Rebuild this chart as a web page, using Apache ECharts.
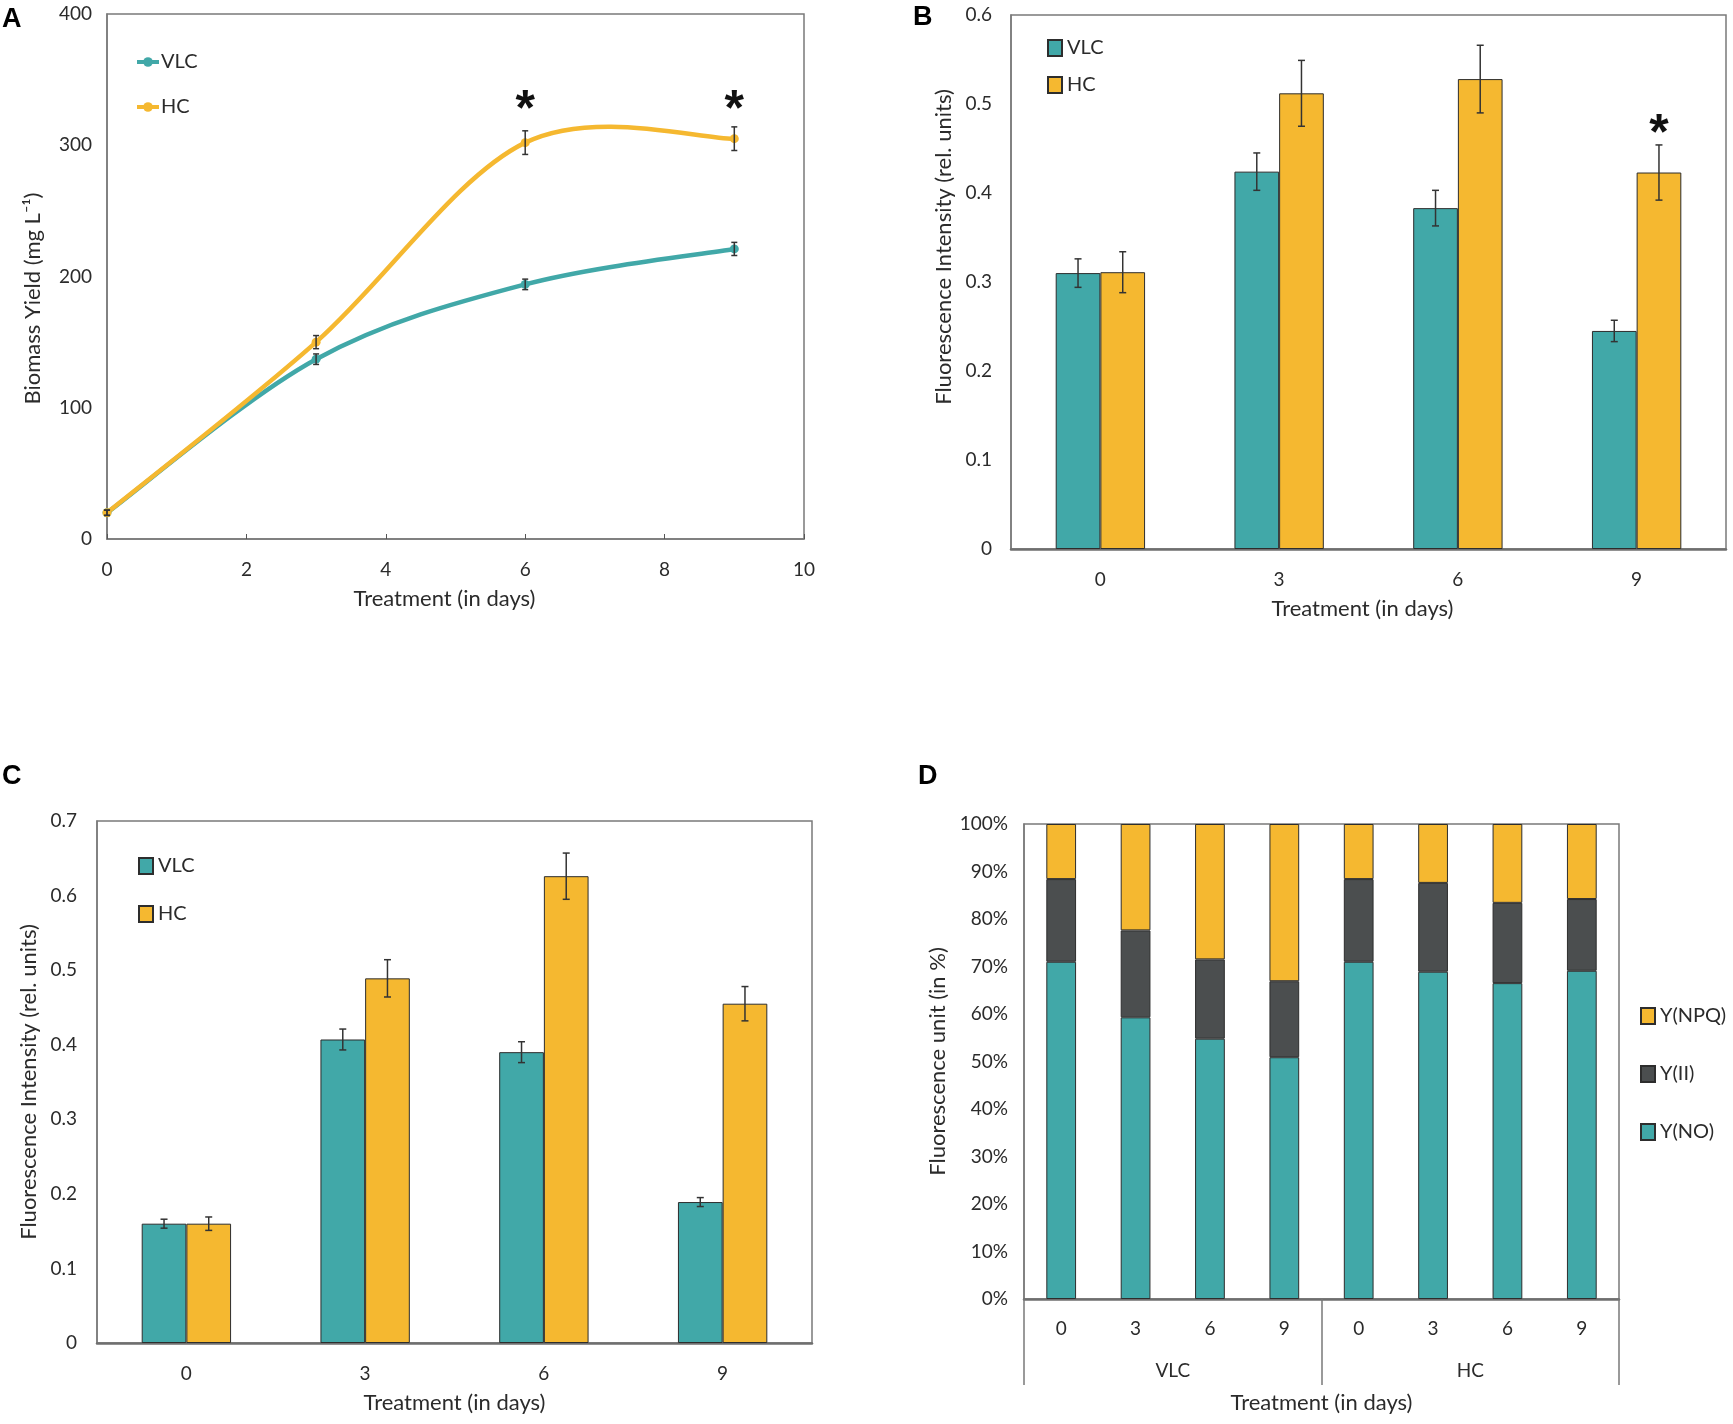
<!DOCTYPE html>
<html>
<head>
<meta charset="utf-8">
<script src="https://cdn.jsdelivr.net/npm/echarts@6/dist/echarts.min.js"></script>
<style>
  body { margin: 0; background: #fff; }
  #page { position: relative; width: 1733px; height: 1424px; background: #fff; }
  .panel { position: absolute; width: 866px; height: 712px; }
</style>
</head>
<body>
<div id="page">
  <div class="panel" id="pA" style="left:0;top:0;"></div>
  <div class="panel" id="pB" style="left:866px;top:0;width:867px;"></div>
  <div class="panel" id="pC" style="left:0;top:712px;"></div>
  <div class="panel" id="pD" style="left:866px;top:712px;width:867px;"></div>
</div>
<script>
// A: biomass yield (mg/L) by day
var aDays = [0, 3, 6, 9];
var aVLC = [20, 137, 194, 221];
var aHC = [20, 150, 302, 305];
var aVLCErr = [2, 4, 4, 5];
var aHCErr = [2, 5, 9, 9];
var aStarX = [6, 9];
var aStarY = [326, 326];

// B and C: fluorescence intensity per day
var days = ['0', '3', '6', '9'];
var bVLC = [0.310, 0.424, 0.383, 0.245];
var bHC = [0.311, 0.512, 0.528, 0.423];
var bVLCErr = [0.016, 0.021, 0.020, 0.012];
var bHCErr = [0.023, 0.037, 0.038, 0.031];
var bStarCat = [3];
var bStarY = [0.465];

var cVLC = [0.160, 0.407, 0.390, 0.189];
var cHC = [0.160, 0.489, 0.626, 0.455];
var cVLCErr = [0.006, 0.014, 0.014, 0.006];
var cHCErr = [0.009, 0.025, 0.031, 0.023];

// D: quantum yield shares (%)
var dDays = ['0', '3', '6', '9', '0', '3', '6', '9'];
var dGroups = ['VLC', 'HC'];
var dNO = [71.0, 59.3, 54.8, 50.9, 71.0, 68.9, 66.5, 69.1];
var dII = [17.4, 18.3, 16.7, 16.0, 17.4, 18.7, 16.9, 15.1];
var dNPQ = [11.6, 22.4, 28.5, 33.1, 11.6, 12.4, 16.6, 15.8];

var teal = '#41a8a8';
var gold = '#f5b830';
var dark = '#4b4e4f';
var font = 'Lato';
var txt = '#2b2b2b';
var frame = '#7a7a7a';

function letter(t, left, top) {
    return {
        text: t, left: left, top: top, padding: 0,
        textStyle: { fontFamily: 'Liberation Sans', fontWeight: 'bold', fontSize: 27, color: '#000' }
    };
}
function labelStyle(margin) {
    return { margin: margin, fontFamily: font, fontSize: 19, color: txt };
}
function nameStyle(padding) {
    return { fontFamily: font, fontSize: 22, color: txt, padding: padding || 0 };
}
var legendText = { fontFamily: font, fontSize: 20, color: txt };

// error bar drawer; offset -1 / +1 for left / right bar of a pair
function errRender(offset, frac, cap) {
    return function (params, api) {
        var x0 = api.value(0);
        var band = frac ? api.size([1, 0])[0] : 0;
        var hi = api.coord([x0, api.value(2)]);
        var lo = api.coord([x0, api.value(1)]);
        var x = hi[0] + offset * band * frac / 2;
        var st = { stroke: '#333', lineWidth: 1.5 };
        return {
            type: 'group',
            children: [
                { type: 'line', shape: { x1: x, y1: hi[1], x2: x, y2: lo[1] }, style: st },
                { type: 'line', shape: { x1: x - cap, y1: hi[1], x2: x + cap, y2: hi[1] }, style: st },
                { type: 'line', shape: { x1: x - cap, y1: lo[1], x2: x + cap, y2: lo[1] }, style: st }
            ]
        };
    };
}
function starRender(offset, frac) {
    return function (params, api) {
        var p = api.coord([api.value(0), api.value(1)]);
        var band = frac ? api.size([1, 0])[0] : 0;
        return {
            type: 'text', x: p[0] + offset * band * frac / 2, y: p[1],
            style: { text: '*', fontFamily: 'Liberation Sans', fontWeight: 'bold', fontSize: 50,
                fill: '#111', align: 'center', verticalAlign: 'middle' }
        };
    };
}
// spreadsheet-style smoothed curve (Catmull-Rom through the data points)
function curveRender(xs, ys, color) {
    return function (params, api) {
        var i = params.dataIndex;
        if (i >= xs.length - 1) return null;
        var P = xs.map(function (x, j) { return api.coord([x, ys[j]]); });
        var p0 = P[Math.max(i - 1, 0)], p1 = P[i], p2 = P[i + 1], p3 = P[Math.min(i + 2, P.length - 1)];
        return {
            type: 'bezierCurve',
            shape: {
                x1: p1[0], y1: p1[1], x2: p2[0], y2: p2[1],
                cpx1: p1[0] + (p2[0] - p0[0]) / 6, cpy1: p1[1] + (p2[1] - p0[1]) / 6,
                cpx2: p2[0] - (p3[0] - p1[0]) / 6, cpy2: p2[1] - (p3[1] - p1[1]) / 6
            },
            style: { stroke: color, lineWidth: 4.5, fill: null }
        };
    };
}
function errData(xs, vals, errs) {
    return vals.map(function (v, i) { return [xs[i], v - errs[i], v + errs[i]]; });
}
function pts(xs, ys) {
    return xs.map(function (x, i) { return [x, ys[i]]; });
}

// ---------- A ----------
var chartA = echarts.init(document.getElementById('pA'));
chartA.setOption({
    animation: false,
    title: letter('A', 2, 6),
    grid: { left: 107, top: 14, width: 697, height: 525, show: true, borderColor: frame, borderWidth: 1.5 },
    legend: {
        orient: 'vertical', left: 130, top: 47, itemGap: 25, itemWidth: 22, itemHeight: 12,
        textStyle: Object.assign({ padding: [0, 0, 0, -3] }, legendText),
        lineStyle: { opacity: 1, width: 4 },
        data: ['VLC', 'HC']
    },
    xAxis: {
        type: 'value', min: 0, max: 10, interval: 2,
        name: 'Treatment (in days)', nameLocation: 'middle', nameGap: 49,
        nameTextStyle: nameStyle([0, 22, 0, 0]),
        axisLine: { lineStyle: { color: frame, width: 1.5 } },
        axisTick: { inside: true, length: 5, lineStyle: { color: '#555' } },
        axisLabel: labelStyle(21),
        splitLine: { show: false }
    },
    yAxis: {
        type: 'value', min: 0, max: 400, interval: 100,
        name: 'Biomass Yield (mg L⁻¹)', nameLocation: 'middle', nameGap: 63,
        nameTextStyle: nameStyle([0, 44, 0, 0]),
        axisLine: { show: true, lineStyle: { color: frame, width: 1.5 } },
        axisTick: { show: false },
        axisLabel: labelStyle(15),
        splitLine: { show: false }
    },
    series: [
        {
            name: 'VLC', type: 'line', symbol: 'circle', symbolSize: 9,
            data: pts(aDays, aVLC),
            lineStyle: { width: 4, color: teal, opacity: 0 }, itemStyle: { color: teal }, z: 4
        },
        {
            name: 'HC', type: 'line', symbol: 'circle', symbolSize: 9,
            data: pts(aDays, aHC),
            lineStyle: { width: 4, color: gold, opacity: 0 }, itemStyle: { color: gold }, z: 4
        },
        { type: 'custom', renderItem: curveRender(aDays, aVLC, teal), data: pts(aDays, aVLC), encode: { x: 0, y: 1 }, z: 2 },
        { type: 'custom', renderItem: curveRender(aDays, aHC, gold), data: pts(aDays, aHC), encode: { x: 0, y: 1 }, z: 3 },
        { type: 'custom', renderItem: errRender(0, 0, 3), data: errData(aDays, aVLC, aVLCErr), encode: { x: 0, y: [1, 2] }, z: 5 },
        { type: 'custom', renderItem: errRender(0, 0, 3), data: errData(aDays, aHC, aHCErr), encode: { x: 0, y: [1, 2] }, z: 5 },
        { type: 'custom', renderItem: starRender(0, 0), data: pts(aStarX, aStarY), encode: { x: 0, y: 1 }, z: 6 }
    ]
});

// ---------- B and C ----------
function barPanel(el, opt) {
    var ch = echarts.init(document.getElementById(el));
    var frac = 0.25;
    var idx = [0, 1, 2, 3];
    var series = [
        {
            name: 'VLC', type: 'bar', data: opt.vlc, barWidth: '25%', barGap: '0%',
            itemStyle: { color: teal, borderColor: '#2d2d2d', borderWidth: 1 }
        },
        {
            name: 'HC', type: 'bar', data: opt.hc, barWidth: '25%', barGap: '0%',
            itemStyle: { color: gold, borderColor: '#2d2d2d', borderWidth: 1 }
        },
        { type: 'custom', renderItem: errRender(-1, frac, 3.5), data: errData(idx, opt.vlc, opt.vlcErr), encode: { x: 0, y: [1, 2] }, z: 5 },
        { type: 'custom', renderItem: errRender(1, frac, 3.5), data: errData(idx, opt.hc, opt.hcErr), encode: { x: 0, y: [1, 2] }, z: 5 }
    ];
    if (opt.starCat) {
        series.push({ type: 'custom', renderItem: starRender(1, frac), data: pts(opt.starCat, opt.starY), encode: { x: 0, y: 1 }, z: 6 });
    }
    ch.setOption({
        animation: false,
        title: letter(opt.letter, opt.letterPos[0], opt.letterPos[1]),
        grid: Object.assign({ show: true, borderColor: frame, borderWidth: 1.5 }, opt.grid),
        legend: {
            orient: 'vertical', left: opt.legend[0], top: opt.legend[1], itemGap: opt.legend[2],
            itemWidth: 14, itemHeight: 16, icon: 'rect',
            textStyle: legendText,
            data: ['VLC', 'HC']
        },
        xAxis: {
            type: 'category', data: days,
            name: 'Treatment (in days)', nameLocation: 'middle', nameGap: 49,
            nameTextStyle: nameStyle(opt.xNamePad),
            axisLine: { lineStyle: { color: '#6f6f6f', width: 2.5 } },
            axisTick: { inside: true, length: 6, lineStyle: { color: '#555', width: 1.5 } },
            axisLabel: labelStyle(21)
        },
        yAxis: {
            type: 'value', min: 0, max: opt.max, interval: 0.1,
            name: 'Fluorescence Intensity (rel. units)', nameLocation: 'middle', nameGap: opt.yNameGap,
            nameTextStyle: nameStyle(opt.yNamePad),
            axisLine: { show: true, lineStyle: { color: frame, width: 1.5 } },
            axisTick: { show: false },
            axisLabel: Object.assign(labelStyle(opt.yLabelMargin), {
                formatter: function (v) { return v === 0 ? '0' : v.toFixed(1); }
            }),
            splitLine: { show: false }
        },
        series: series
    });
    return ch;
}

var chartB = barPanel('pB', {
    letter: 'B', letterPos: [47, 4],
    grid: { left: 145, top: 15, width: 715, height: 534 },
    legend: [176, 33, 17],
    vlc: bVLC, hc: bHC, vlcErr: bVLCErr, hcErr: bHCErr,
    starCat: bStarCat, starY: bStarY,
    max: 0.6, yLabelMargin: 19, yNameGap: 55,
    yNamePad: [0, 0, 0, 70], xNamePad: [0, 12, 0, 0]
});

var chartC = barPanel('pC', {
    letter: 'C', letterPos: [2, 51],
    grid: { left: 97, top: 109, width: 715, height: 522 },
    legend: [133, 139, 28],
    vlc: cVLC, hc: cHC, vlcErr: cVLCErr, hcErr: cHCErr,
    max: 0.7, yLabelMargin: 20, yNameGap: 53,
    yNamePad: 0, xNamePad: 0
});

// ---------- D ----------
var chartD = echarts.init(document.getElementById('pD'));
var segBorder = { borderColor: '#2d2d2d', borderWidth: 1 };
chartD.setOption({
    animation: false,
    title: letter('D', 52, 51),
    grid: { left: 158, top: 112, width: 595, height: 475, show: true, borderColor: frame, borderWidth: 1.5 },
    legend: {
        orient: 'vertical', left: 769, top: 289, itemGap: 38,
        itemWidth: 14, itemHeight: 16, icon: 'rect',
        textStyle: legendText,
        data: ['Y(NPQ)', 'Y(II)', 'Y(NO)']
    },
    xAxis: [
        {
            type: 'category', data: dDays, position: 'bottom',
            axisLine: { lineStyle: { color: '#6f6f6f', width: 2.5 } },
            axisTick: { show: false },
            axisLabel: labelStyle(20)
        },
        {
            type: 'category', data: dGroups, position: 'bottom',
            axisLine: { show: false },
            axisTick: { show: true, length: 86, lineStyle: { color: frame, width: 1.5 } },
            axisLabel: labelStyle(62),
            name: 'Treatment (in days)', nameLocation: 'middle', nameGap: 93,
            nameTextStyle: nameStyle(0)
        }
    ],
    yAxis: {
        type: 'value', min: 0, max: 100, interval: 10,
        name: 'Fluorescence unit (in %)', nameLocation: 'middle', nameGap: 72,
        nameTextStyle: nameStyle(0),
        axisLine: { show: true, lineStyle: { color: frame, width: 1.5 } },
        axisTick: { show: false },
        axisLabel: Object.assign(labelStyle(16), { formatter: '{value}%' }),
        splitLine: { show: false }
    },
    series: [
        { name: 'Y(NO)', type: 'bar', stack: 'y', data: dNO, barWidth: '40%', itemStyle: Object.assign({ color: teal }, segBorder) },
        { name: 'Y(II)', type: 'bar', stack: 'y', data: dII, barWidth: '40%', itemStyle: Object.assign({ color: dark }, segBorder) },
        { name: 'Y(NPQ)', type: 'bar', stack: 'y', data: dNPQ, barWidth: '40%', itemStyle: Object.assign({ color: gold }, segBorder) }
    ]
});
</script>
</body>
</html>
